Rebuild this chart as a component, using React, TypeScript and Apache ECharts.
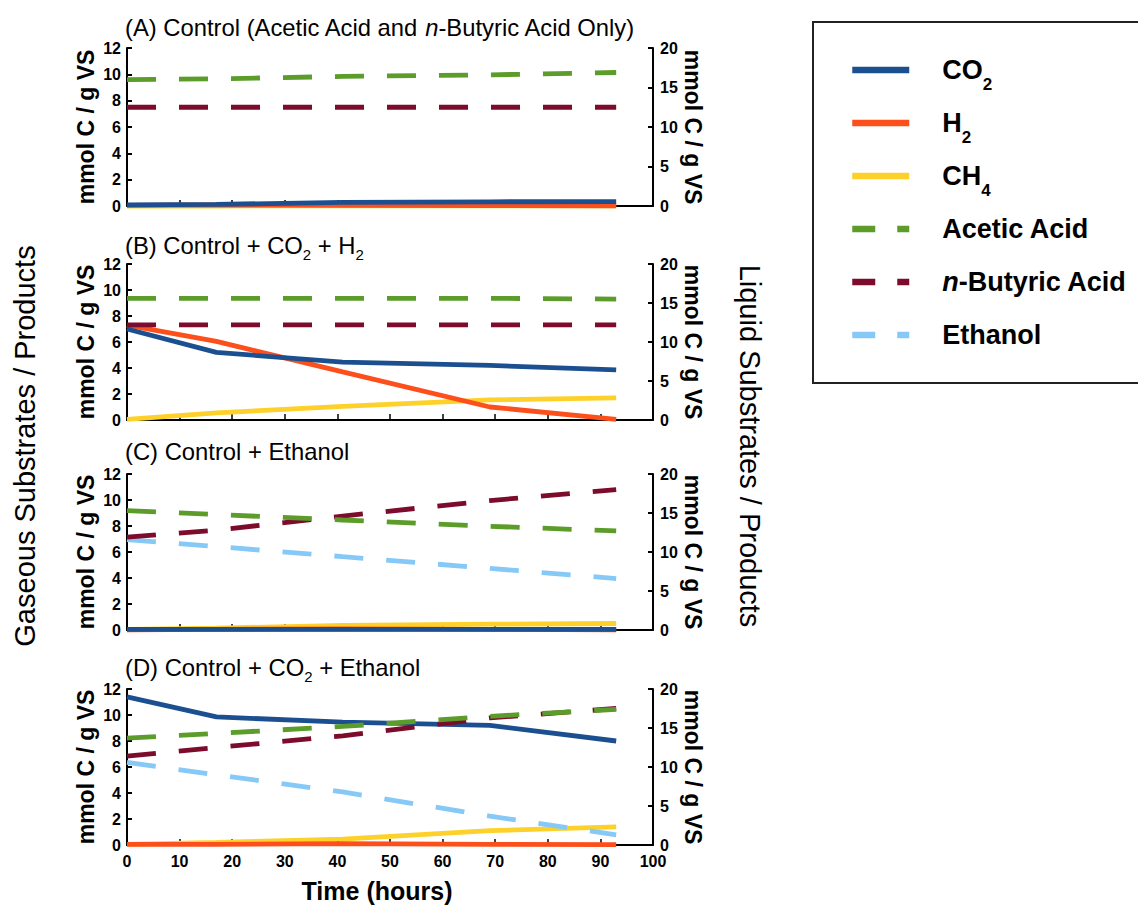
import React, { useEffect, useRef } from "react";
import * as echarts from "echarts";

const FONT = "'Liberation Sans', Arial, Helvetica, sans-serif";

// sampling times (hours)
const hours = [0, 17, 41, 69, 93];

// Panel A: Control (gases left axis, liquids right axis)
const aCO2 = [0.08, 0.12, 0.28, 0.32, 0.33];
const aH2 = [0.04, 0.08, 0.05, 0.03, 0.02];
const aCH4 = [0.0, 0.0, 0.01, 0.01, 0.02];
const aAcetic = [16.0, 16.1, 16.4, 16.6, 16.9];
const aButyric = [12.5, 12.5, 12.5, 12.5, 12.5];

// Panel B: Control + CO2 + H2
const bCO2 = [7.0, 5.2, 4.45, 4.2, 3.85];
const bH2 = [7.3, 6.05, 3.7, 1.0, 0.05];
const bCH4 = [0.05, 0.55, 1.05, 1.55, 1.7];
const bAcetic = [15.6, 15.6, 15.6, 15.6, 15.5];
const bButyric = [12.2, 12.2, 12.2, 12.2, 12.2];

// Panel C: Control + Ethanol
const cCO2 = [0.05, 0.05, 0.05, 0.05, 0.05];
const cH2 = [0.02, 0.05, 0.08, 0.05, 0.02];
const cCH4 = [0.05, 0.15, 0.35, 0.45, 0.5];
const cAcetic = [15.3, 14.8, 14.1, 13.3, 12.7];
const cButyric = [11.9, 12.8, 14.6, 16.6, 18.0];
const cEthanol = [11.6, 10.7, 9.4, 7.9, 6.6];

// Panel D: Control + CO2 + Ethanol
const dCO2 = [11.4, 9.85, 9.45, 9.2, 8.0];
const dH2 = [0.05, 0.05, 0.1, 0.05, 0.03];
const dCH4 = [0.05, 0.2, 0.45, 1.1, 1.4];
const dAcetic = [13.7, 14.3, 15.2, 16.5, 17.4];
const dButyric = [11.4, 12.5, 14.0, 16.3, 17.5];
const dEthanol = [10.6, 9.0, 6.8, 3.7, 1.3];

const leftTicks = [0, 12, 2]; // min, max, interval
const rightTicks = [0, 20, 5];
const timeTicks = [0, 100, 10];

const species = [
  { name: "CH4", color: "#fdd12a", dashed: false, liquid: false, z: 2 },
  { name: "H2", color: "#fc4f1b", dashed: false, liquid: false, z: 3 },
  { name: "CO2", color: "#1c4f8f", dashed: false, liquid: false, z: 4 },
  { name: "Ethanol", color: "#86c9f7", dashed: true, liquid: true, z: 5 },
  { name: "n-Butyric Acid", color: "#7d0b2c", dashed: true, liquid: true, z: 6 },
  { name: "Acetic Acid", color: "#5b9c2a", dashed: true, liquid: true, z: 7 },
];

const panels: Record<string, number[] | null>[] = [
  { CO2: aCO2, H2: aH2, CH4: aCH4, "Acetic Acid": aAcetic, "n-Butyric Acid": aButyric, Ethanol: null },
  { CO2: bCO2, H2: bH2, CH4: bCH4, "Acetic Acid": bAcetic, "n-Butyric Acid": bButyric, Ethanol: null },
  { CO2: cCO2, H2: cH2, CH4: cCH4, "Acetic Acid": cAcetic, "n-Butyric Acid": cButyric, Ethanol: cEthanol },
  { CO2: dCO2, H2: dH2, CH4: dCH4, "Acetic Acid": dAcetic, "n-Butyric Acid": dButyric, Ethanol: dEthanol },
];

const titles = [
  "{t|(A) Control (Acetic Acid and }{i|n}{t|-Butyric Acid Only)}",
  "{t|(B) Control + CO}{s|2}{t| + H}{s|2}",
  "{t|(C) Control + Ethanol}",
  "{t|(D) Control + CO}{s|2}{t| + Ethanol}",
];

const gridTops = [48, 264, 474, 689];
const gridHeights = [158, 156, 156, 156];
const titleTops = [13, 231, 437, 653];

const legendOrder = ["CO2", "H2", "CH4", "Acetic Acid", "n-Butyric Acid", "Ethanol"];
const legendLabels: Record<string, string> = {
  CO2: "{v|}{g|}{b|CO}{s|2}",
  H2: "{v|}{g|}{b|H}{s|2}",
  CH4: "{v|}{g|}{b|CH}{s|4}",
  "Acetic Acid": "{v|}{g|}{b|Acetic Acid}",
  "n-Butyric Acid": "{v|}{g|}{bi|n}{b|-Butyric Acid}",
  Ethanol: "{v|}{g|}{b|Ethanol}",
};

function buildOption() {
  const grids: any[] = [];
  const xAxes: any[] = [];
  const yAxes: any[] = [];
  const series: any[] = [];
  const axisLine = { show: true, lineStyle: { color: "#000", width: 2 } };
  const axisTick = { show: true, inside: true, length: 5, lineStyle: { color: "#000", width: 2 } };
  const tickLabel = { fontFamily: FONT, fontWeight: "bold", fontSize: 16, color: "#000" };

  panels.forEach((p, i) => {
    grids.push({ left: 127, width: 526, top: gridTops[i], height: gridHeights[i] });
    xAxes.push({
      type: "value",
      gridIndex: i,
      min: timeTicks[0],
      max: timeTicks[1],
      interval: timeTicks[2],
      axisLine,
      axisTick: { ...axisTick, length: 6, lineStyle: { color: "#000", width: 1.5 } },
      axisLabel: { show: i === 3, margin: 8, ...tickLabel },
      splitLine: { show: false },
      name: i === 3 ? "Time (hours)" : "",
      nameLocation: "middle",
      nameGap: 33,
      nameTextStyle: { fontFamily: FONT, fontWeight: "bold", fontSize: 25, color: "#000", padding: [0, 26, 0, 0] },
    });
    yAxes.push({
      type: "value",
      gridIndex: i,
      position: "left",
      min: leftTicks[0],
      max: leftTicks[1],
      interval: leftTicks[2],
      axisLine,
      axisTick,
      axisLabel: { margin: 6, ...tickLabel },
      splitLine: { show: false },
      name: "mmol C / g VS",
      nameLocation: "middle",
      nameGap: 30,
      nameTextStyle: { fontFamily: FONT, fontWeight: "bold", fontSize: 23, color: "#000" },
    });
    yAxes.push({
      type: "value",
      gridIndex: i,
      position: "right",
      min: rightTicks[0],
      max: rightTicks[1],
      interval: rightTicks[2],
      axisLine,
      axisTick,
      axisLabel: { margin: 7, ...tickLabel },
      splitLine: { show: false },
      name: "mmol C / g VS",
      nameLocation: "middle",
      nameRotate: -90,
      nameGap: 28,
      nameTextStyle: { fontFamily: FONT, fontWeight: "bold", fontSize: 23, color: "#000" },
    });
    species.forEach((s) => {
      const vals = p[s.name];
      if (!vals) return;
      series.push({
        type: "line",
        name: s.name,
        xAxisIndex: i,
        yAxisIndex: s.liquid ? 2 * i + 1 : 2 * i,
        data: hours.map((h, k) => [h, vals[k]]),
        symbol: "none",
        clip: false,
        z: s.z,
        lineStyle: { color: s.color, width: 4.8, type: s.dashed ? [29, 23] : "solid", cap: "butt" },
        itemStyle: { color: s.color },
      });
    });
  });

  const graphic: any[] = [
    {
      type: "rect",
      shape: { x: 813, y: 22, width: 345, height: 361 },
      style: { fill: "none", stroke: "#222", lineWidth: 2 },
      silent: true,
    },
    {
      type: "text",
      x: 25,
      y: 446,
      rotation: Math.PI / 2,
      style: {
        text: "Gaseous Substrates / Products",
        fontFamily: FONT,
        fontSize: 29,
        fill: "#000",
        align: "center",
        verticalAlign: "middle",
        textAlign: "center",
        textVerticalAlign: "middle",
      },
    },
    {
      type: "text",
      x: 750,
      y: 446,
      rotation: -Math.PI / 2,
      style: {
        text: "Liquid Substrates / Products",
        fontFamily: FONT,
        fontSize: 29,
        fill: "#000",
        align: "center",
        verticalAlign: "middle",
        textAlign: "center",
        textVerticalAlign: "middle",
      },
    },
  ];
  titles.forEach((t, i) => {
    graphic.push({
      type: "text",
      x: 125,
      y: titleTops[i],
      style: {
        text: t,
        fontFamily: FONT,
        fill: "#000",
        rich: {
          t: { fontFamily: FONT, fontSize: 23.8, lineHeight: 28, fill: "#000" },
          i: { fontFamily: FONT, fontSize: 23.8, lineHeight: 28, fontStyle: "italic", fill: "#000" },
          s: { fontFamily: FONT, fontSize: 15, lineHeight: 15, padding: [19, 0, 0, 0], fill: "#000" },
        },
      },
    });
  });

  const legendData = legendOrder.map((n) => {
    const s = species.find((x) => x.name === n)!;
    return {
      name: n,
      itemStyle: { opacity: 0 },
      lineStyle: { type: s.dashed ? [23, 22] : "solid", width: 6.5, color: s.color, cap: "butt" },
    };
  });

  return {
    animation: false,
    grid: grids,
    xAxis: xAxes,
    yAxis: yAxes,
    series,
    graphic,
    legend: {
      left: 844,
      top: 42,
      orient: "vertical",
      itemWidth: 57,
      itemHeight: 12,
      itemGap: 7,
      selectedMode: false,
      data: legendData,
      formatter: (name: string) => legendLabels[name],
      textStyle: {
        rich: {
          v: { height: 46, width: 0, lineHeight: 46 },
          g: { width: 28 },
          b: { fontFamily: FONT, fontWeight: "bold", fontSize: 27, lineHeight: 46, color: "#000" },
          bi: { fontFamily: FONT, fontWeight: "bold", fontStyle: "italic", fontSize: 27, lineHeight: 46, color: "#000" },
          s: { fontFamily: FONT, fontWeight: "bold", fontSize: 17, lineHeight: 17, padding: [29, 0, 0, 0], color: "#000" },
        },
      },
    },
  };
}

export default function App() {
  const ref = useRef<HTMLDivElement>(null);
  useEffect(() => {
    document.body.style.margin = "0";
    if (!ref.current) return;
    const chart = echarts.init(ref.current, undefined, { renderer: "svg" });
    chart.setOption(buildOption() as any);
    return () => chart.dispose();
  }, []);
  return <div ref={ref} style={{ width: 1138, height: 905, background: "#fff" }} />;
}
